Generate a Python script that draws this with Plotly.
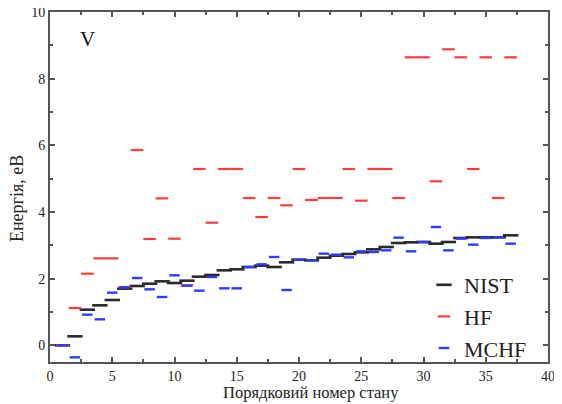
import plotly.graph_objects as go

states = list(range(1, 38))
nist = [0.00, 0.27, 1.07, 1.20, 1.36, 1.70, 1.78, 1.85, 1.92, 1.87,
        1.94, 2.06, 2.11, 2.25, 2.28, 2.35, 2.39, 2.35, 2.49, 2.57,
        2.55, 2.63, 2.69, 2.74, 2.79, 2.88, 2.95, 3.07, 3.09, 3.10,
        3.05, 3.10, 3.22, 3.24, 3.24, 3.24, 3.30]
hf = [0.00, 1.12, 2.15, 2.61, 2.61, 1.75, 5.86, 3.19, 4.41, 3.20,
      1.80, 5.29, 3.68, 5.29, 5.29, 4.42, 3.85, 4.42, 4.20, 5.29,
      4.36, 4.42, 4.42, 5.29, 4.34, 5.29, 5.29, 4.42, 8.64, 8.64,
      4.92, 8.88, 8.64, 5.29, 8.64, 4.42, 8.64]
mchf = [0.00, -0.36, 0.92, 0.78, 1.58, 1.74, 2.02, 1.68, 1.45, 2.10,
        1.79, 1.64, 2.05, 1.71, 1.71, 2.35, 2.43, 2.65, 1.66, 2.57,
        2.55, 2.75, 2.72, 2.64, 2.82, 2.80, 2.85, 3.23, 2.82, 3.10,
        3.55, 2.85, 3.20, 3.02, 3.22, 3.24, 3.05]

FONT = "'Liberation Serif', 'DejaVu Serif', 'Times New Roman', serif"
AX = "#555555"
TXT = "#222222"

fig = go.Figure()
fig.add_trace(go.Scatter(x=states, y=nist, mode="markers", name="NIST",
                         marker=dict(symbol="line-ew", size=11,
                                     line=dict(color="#2a2a2a", width=2.6))))
fig.add_trace(go.Scatter(x=states, y=hf, mode="markers", name="HF",
                         marker=dict(symbol="line-ew", size=9,
                                     line=dict(color="#ff3b3b", width=2.2))))
fig.add_trace(go.Scatter(x=states, y=mchf, mode="markers", name="MCHF",
                         marker=dict(symbol="line-ew", size=7.5,
                                     line=dict(color="#2f3bff", width=2.4))))

axis_common = dict(showline=True, linecolor=AX, linewidth=2, mirror="ticks",
                   ticks="inside", tickcolor=AX, tickwidth=1.5, ticklen=5,
                   showgrid=False, zeroline=False, automargin=False,
                   ticklabeloverflow="allow",
                   tickfont=dict(family=FONT, size=14, color=TXT))

fig.update_xaxes(range=[0, 40], tick0=0, dtick=5, ticklabelstandoff=0,
                 minor=dict(ticks="inside", dtick=2.5, ticklen=3, tickcolor=AX, tickwidth=1.5),
                 **axis_common)
fig.update_yaxes(range=[-0.5, 10], tick0=0, dtick=2,
                 minor=dict(ticks="inside", dtick=1, ticklen=3, tickcolor=AX, tickwidth=1.5),
                 **axis_common)

fig.add_annotation(text="Порядковий номер стану", xref="paper", yref="paper",
                   x=0.524, y=-0.12, xanchor="center", yanchor="bottom",
                   showarrow=False, font=dict(family=FONT, size=16.5, color=TXT))
fig.add_annotation(text="Енергія, eВ", xref="paper", yref="paper",
                   x=-0.066, y=0.466, xanchor="center", yanchor="middle",
                   textangle=-90, showarrow=False,
                   font=dict(family=FONT, size=18, color=TXT))
fig.add_annotation(text="V", x=3, y=9.2, xref="x", yref="y", showarrow=False,
                   font=dict(family=FONT, size=21, color="#111111"))

# page has an 8px body margin; compensate so the plot lands where the reference has it
fig.update_layout(
    width=554, height=396,
    margin=dict(l=42, r=14, t=4, b=42),
    plot_bgcolor="white", paper_bgcolor="white",
    legend=dict(x=0.751, y=0.28, xanchor="left", yanchor="top",
                bgcolor="rgba(0,0,0,0)", borderwidth=0,
                font=dict(family=FONT, size=22, color=TXT),
                tracegroupgap=0),
    showlegend=True,
)

fig.write_html("out.html")
